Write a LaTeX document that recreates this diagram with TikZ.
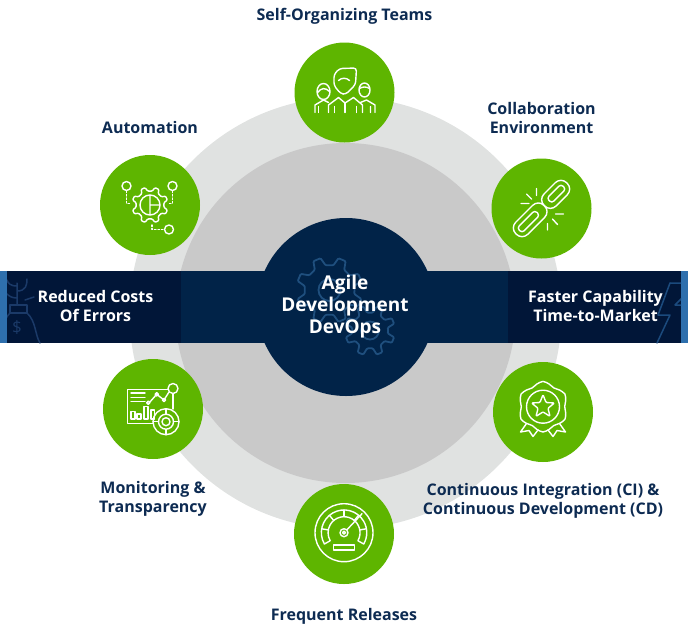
\documentclass[tikz,border=0pt]{standalone}
\usepackage{fontspec}
\setmainfont{Open Sans}
\usetikzlibrary{positioning}
\definecolor{navy}{HTML}{0D2B52}
\definecolor{deepband}{HTML}{011638}
\definecolor{midband}{HTML}{012348}
\definecolor{bandend}{HTML}{2E6FAD}
\definecolor{ringout}{HTML}{E0E2E1}
\definecolor{ringin}{HTML}{C9C9C9}
\definecolor{leaf}{HTML}{5EB500}
\definecolor{markline}{HTML}{1B3A68}
\definecolor{boltline}{HTML}{1B4A7D}
\definecolor{cogline}{HTML}{1F4F7E}
\newcommand{\cog}[3]{\draw[rounded corners=1pt] (0:#3) \foreach \t in {1,...,#1} { -- ({(\t-.8)*360/#1}:#3) -- ({(\t-.65)*360/#1}:#2) -- ({(\t-.35)*360/#1}:#2) -- ({(\t-.2)*360/#1}:#3) } -- cycle;}
\begin{document}
\begin{tikzpicture}[x=1pt,y=1pt,on grid,
    hub/.style={circle,fill=leaf,minimum size=100pt,inner sep=0pt},
    caption/.style={font=\fontsize{16}{19}\selectfont\bfseries,text=navy,align=center},
    bandtext/.style={font=\fontsize{16}{19}\selectfont\bfseries,text=white,align=center},
    glyph/.style={white,line width=1.4pt,line cap=round,line join=round}]
\useasboundingbox (0,0) rectangle (692,-635);
% rings
\node[circle,fill=ringout,minimum size=432pt,inner sep=0pt] (outer) at (345.5,-313) {};
\node[circle,fill=ringin,minimum size=340pt,inner sep=0pt] (inner) at (345.5,-313) {};
% band
\fill[bandend] (0,-271) rectangle (688,-343);
\fill[deepband] (7,-271) rectangle (681,-343);
\fill[midband] (181,-271) rectangle (508,-343);
\begin{scope}[color=markline,line width=1.5pt,line cap=round,line join=round]
  \clip (7,-271) rectangle (681,-343);
  \draw (17,-305) -- (17,-283) (17,-291) .. controls (26,-291) and (27,-285) .. (27,-279)
        (17,-286) .. controls (10,-286) and (8,-283) .. (7,-280)
        (17,-298) .. controls (12,-298) and (9,-296) .. (7,-294) (25,-300) -- (34,-297);
  \draw (10,-305) rectangle (27,-313);
  \draw (27,-313) .. controls (36,-321) and (35,-335) .. (40,-343)
        (10,-313) .. controls (7,-316) and (5,-320) .. (3,-325);
  \node[text=markline,font=\fontsize{17}{17}\selectfont,inner sep=0pt] (bagsign) at (17,-328) {\$};
  \draw[boltline] (670,-283) -- (658,-315) -- (670,-315) -- (657,-343);
  \draw[boltline] (670,-283) -- (685,-283) (685,-295) -- (675,-305) -- (685,-305);
\end{scope}
\node[circle,fill=midband,minimum size=178pt,inner sep=0pt] (core) at (346,-307) {};
\begin{scope}[color=cogline,line width=1.8pt,shift={(329.5,-290)}]
  \cog{8}{33}{25}
  \draw (0,0) circle (11);
\end{scope}
\begin{scope}[color=cogline,line width=1.8pt,shift={(370,-330.5)}]
  \cog{8}{25}{18}
  \draw (0,0) circle (9);
\end{scope}
\node[bandtext,font=\fontsize{19}{21.7}\selectfont\bfseries] (agile) at (345,-306.5) {Agile\\Development\\DevOps};
\node[bandtext] (costs) at (95.5,-305.5) {Reduced Costs\\Of Errors};
\node[bandtext] (market) at (595.5,-305.5) {Faster Capability\\Time-to-Market};
% green discs
\node[hub] (teams) at (344.5,-92.5) {};
\node[hub] (auto) at (150,-205) {};
\node[hub] (link) at (541.5,-208.5) {};
\node[hub] (board) at (153,-409) {};
\node[hub] (badge) at (543,-412) {};
\node[hub] (gauge) at (344,-534) {};
% captions
\node[caption] (teamstext) [above=76pt of teams] {Self-Organizing Teams};
\node[caption] (autotext) [above=78pt of auto] {Automation};
\node[caption] (linktext) [above=91pt of link] {Collaboration\\Environment};
\node[caption] (boardtext) [below=89.5pt of board] {Monitoring \&\\Transparency};
\node[caption] (badgetext) [below=88.5pt of badge] {Continuous Integration (CI) \&\\Continuous Development (CD)};
\node[caption] (gaugetext) [below=82.5pt of gauge] {Frequent Releases};
% people
\begin{scope}[shift={(teams.center)},glyph]
  \draw[rounded corners=3pt] (-10.5,7) -- (-10.5,18) -- (-5,24) -- (12,24.5) -- (11,8) -- (1,-2) -- (-4,-1) -- cycle;
  \draw (-6,12) .. controls (-3,15) and (2,15) .. (5,12);
  \draw (-16,-20) -- (-16,-12.5) -- (-6,-5) -- (0.5,-10.5) -- (9,-5) -- (18,-12.5) -- (18,-20);
  \draw (0.5,-10.5) -- (0.5,-20) (-10,-14) -- (-10,-20) (12,-14) -- (12,-20);
  \draw (-21,1) ellipse (6.5 and 8);
  \draw (-27,0) .. controls (-23,5) and (-19,5) .. (-15,1);
  \draw (-29.5,-20) -- (-29.5,-12.5) -- (-21,-7.5) -- (-16,-10);
  \draw (-26,-14) -- (-26,-20);
  \draw (20,2.5) ellipse (5.5 and 7);
  \draw (15,4) .. controls (18,6) and (22,6) .. (25,4);
  \draw (16,-10) -- (22,-7.5) -- (30.5,-12.5) -- (30.5,-20) (26,-14) -- (26,-20);
\end{scope}
% cog with three points
\begin{scope}[shift={(auto.center)},glyph]
  \cog{8}{18}{14}
  \draw (0,0) circle (10) (0,10) -- (0,0) -- (10,0) (0,0) -- (0,-10);
  \draw (-23.5,19) circle (4.5) (22.5,19) circle (4.5) (19,-24.5) circle (4.5);
  \draw[dash pattern=on 1.5pt off 2pt] (-23.5,14) -- (-23.5,1.5) -- (-18.5,1.5)
        (22.5,14) -- (22.5,1.5) -- (18.5,1.5) (2,-20) -- (2,-24.5) -- (14,-24.5);
\end{scope}
% chain
\begin{scope}[shift={(link.center)},glyph]
  \begin{scope}[rotate=45]
    \draw[rounded corners=8pt] (-36,-8.5) rectangle (4,8.5);
    \draw[rounded corners=3pt] (-31,-3.5) rectangle (-6,3.5);
    \draw[rounded corners=8pt] (4,-8.5) rectangle (36,8.5);
    \draw[rounded corners=3pt] (11,-3.5) rectangle (31,3.5);
  \end{scope}
  \draw (-20.5,5) -- (-12.5,5) (-15,14.5) -- (-10,9.5) (-5,20) -- (-5,13);
  \draw (14,-5.5) -- (22,-5.5) (11,-10.5) -- (16,-16) (6,-15) -- (6,-21.5);
\end{scope}
% dashboard
\begin{scope}[shift={(board.center)},glyph]
  \draw (0,-14.5) -- (-25.5,-14.5) -- (-25.5,19.5) -- (14.5,19.5) (20,15) -- (20,0);
  \draw (-22,16) -- (-8,16) (-22,11.5) -- (-8,11.5) (-22,7.3) -- (-8,7.3);
  \draw (-22,-10) rectangle (-18,-2.5) (-16,-10) rectangle (-12,-5) (-9,-10) rectangle (-5,2.5) (-2,-10) rectangle (1.3,-1);
  \draw (-4,6) -- (3.7,14.7) -- (11,9) -- (16,17);
  \draw (-4.7,6.3) circle (1.7) (3.7,14.7) circle (1.7) (11,9) circle (1.7);
  \draw (20,20.5) circle (5);
  \draw (13,-12.7) circle (13) (13,-12.7) circle (7.5) (13,-12.7) circle (4);
  \draw (13,0.3) -- (13,-5) (13,-25.7) -- (13,-20.5) (0,-12.7) -- (5.5,-12.7) (26,-12.7) -- (20.5,-12.7);
\end{scope}
% rosette
\begin{scope}[shift={(badge.center)},glyph,yshift=5.3pt]
  \draw plot[smooth cycle,domain=0:345,samples=24] (\x:{23.5+1.8*cos(6*(\x-90))});
  \draw (0,0) circle (16.5);
  \draw[rounded corners=1pt] (90:12) -- (126:5.2) -- (162:12) -- (198:5.2) -- (234:12) -- (270:5.2) -- (306:12) -- (342:5.2) -- (18:12) -- (54:5.2) -- cycle;
  \draw (-16.5,-16.8) -- (-22.5,-25.3) -- (-14,-23.8) -- (-10,-29.8) -- (-5,-23.3);
  \draw (16.5,-16.8) -- (22.5,-25.3) -- (14,-23.8) -- (10,-29.8) -- (5,-23.3);
\end{scope}
% speedometer
\begin{scope}[shift={(gauge.center)},glyph,yshift=1.3pt]
  \draw (0,0) circle (29);
  \draw (-19.6,-11.3) arc[start angle=210,end angle=-30,radius=22.7] -- (13.9,-8) arc[start angle=-30,end angle=210,radius=16] -- cycle;
  \foreach \a in {170,130,90,50,10} \draw (\a:16) -- (\a:22.7);
  \draw (0,0) circle (4) (0,0) circle (1.5);
  \draw (2.8,2.8) -- (18,19);
  \draw (-10.7,-12.3) rectangle (10.3,-17.3);
\end{scope}
\end{tikzpicture}
\end{document}
